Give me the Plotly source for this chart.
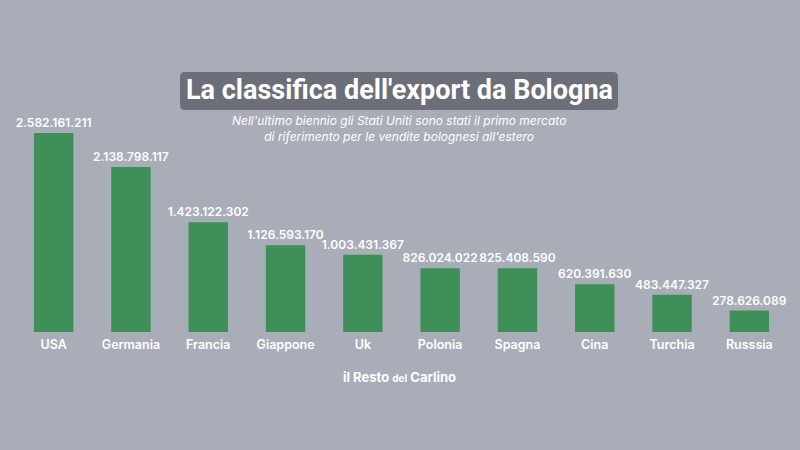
import plotly.graph_objects as go

countries = ["USA", "Germania", "Francia", "Giappone", "Uk", "Polonia", "Spagna", "Cina", "Turchia", "Russsia"]
export_values = [2582161211, 2138798117, 1423122302, 1126593170, 1003431367, 826024022, 825408590, 620391630, 483447327, 278626089]

title_text = "La classifica dell'export da Bologna"
subtitle_text = "Nell'ultimo biennio gli Stati Uniti sono stati il primo mercato<br>di riferimento per le vendite bolognesi all'estero"
logo_text = "il Resto <span style='font-size:10px'>del</span> Carlino"

BG = "#a9adb7"
GREEN = "#3e8f58"
BOX = "#6c6f79"
FONT = "Inter"

W, H = 800, 450
ML, MR, MT, MB = 15, 12, 100, 118
PW = W - ML - MR
PH = H - MT - MB


def px(x):
    return (x - ML) / PW


def py(y):
    return (H - MB - y) / PH


fig = go.Figure(
    go.Bar(
        x=countries,
        y=export_values,
        marker=dict(color=GREEN, line=dict(width=0)),
        width=0.51,
        texttemplate="%{y:,.0f}",
        textposition="outside",
        constraintext="none",
        textfont=dict(color="white", size=12, family=FONT, weight=600),
        cliponaxis=False,
        hoverinfo="skip",
    )
)

# rounded title box
x0, x1, y0, y1, r = px(180), px(618), py(110), py(72), 5
rx, ry = r / PW, r / PH
path = (
    f"M {x0+rx},{y0} L {x1-rx},{y0} Q {x1},{y0} {x1},{y0+ry} "
    f"L {x1},{y1-ry} Q {x1},{y1} {x1-rx},{y1} "
    f"L {x0+rx},{y1} Q {x0},{y1} {x0},{y1-ry} "
    f"L {x0},{y0+ry} Q {x0},{y0} {x0+rx},{y0} Z"
)
fig.add_shape(type="path", xref="paper", yref="paper", path=path,
              fillcolor=BOX, line=dict(width=0), layer="below")

fig.add_annotation(xref="paper", yref="paper", x=px(399), y=py(90),
                   text=title_text, showarrow=False, xanchor="center", yanchor="middle",
                   font=dict(color="white", size=27, family="Roboto", weight=700))
fig.add_annotation(xref="paper", yref="paper", x=px(399), y=py(128.5),
                   text=f"<i>{subtitle_text}</i>", showarrow=False, xanchor="center", yanchor="middle",
                   font=dict(color="white", size=12, family=FONT))
fig.add_annotation(xref="paper", yref="paper", x=px(399), y=py(377),
                   text=logo_text, showarrow=False, xanchor="center", yanchor="middle",
                   font=dict(color="white", size=13, family=FONT, weight=700))

fig.update_layout(
    width=W, height=H,
    margin=dict(l=ML, r=MR, t=MT, b=MB),
    paper_bgcolor=BG, plot_bgcolor=BG,
    separators=",.",
    showlegend=False,
    bargap=0.49,
    xaxis=dict(showgrid=False, zeroline=False, showline=False, ticks="",
               tickfont=dict(color="white", size=12.5, family=FONT, weight=600),
               ticklabelstandoff=3,
               range=[-0.5, 9.5]),
    yaxis=dict(visible=False, range=[0, 3.009e9]),
)

fig.write_html("out.html")
